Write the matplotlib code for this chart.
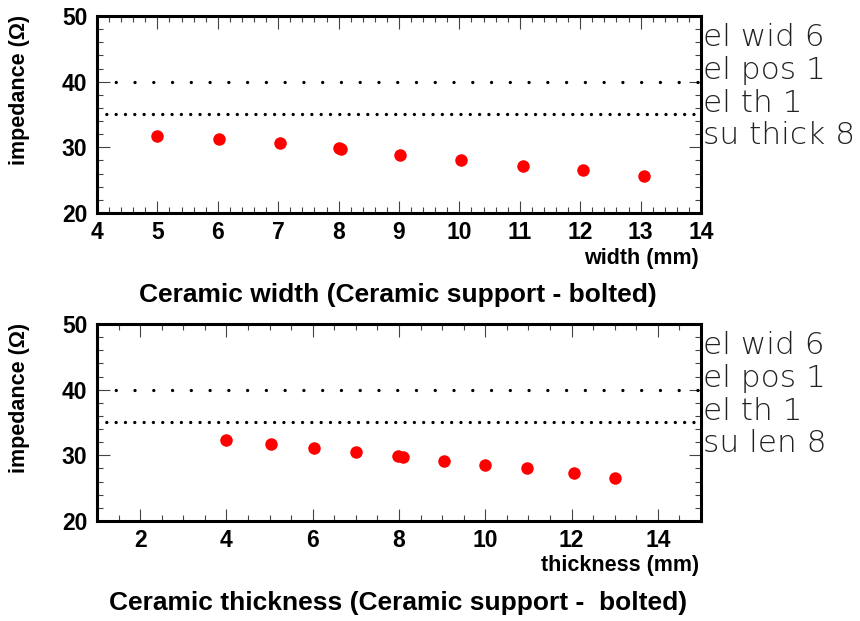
import numpy as np
import matplotlib
matplotlib.use("Agg")
import matplotlib.pyplot as plt
from matplotlib.ticker import MultipleLocator

plt.rcParams['font.family'] = ['Liberation Sans', 'DejaVu Sans']
plt.rcParams['lines.scale_dashes'] = False

# data
width_mm = [5.0, 6.02, 7.03, 8.0, 8.04, 9.01, 10.02, 11.06, 12.05, 13.05]
width_imp = [31.8, 31.3, 30.7, 29.95, 29.8, 28.9, 28.0, 27.1, 26.5, 25.7]

thick_mm = [4.0, 5.04, 6.03, 7.0, 7.98, 8.1, 9.05, 9.99, 10.97, 12.05, 13.0]
thick_imp = [32.4, 31.8, 31.1, 30.5, 29.9, 29.8, 29.1, 28.5, 28.1, 27.3, 26.5]

ref_levels = [40, 35]
info_top = ["el wid 6", "el pos 1", "el th 1", "su thick 8"]
info_bot = ["el wid 6", "el pos 1", "el th 1", "su len 8"]

W, H = 860, 621
fig = plt.figure(figsize=(W / 100, H / 100), dpi=100)


def fx(px):
    return px / W


def fy(py):
    return 1 - py / H


def panel(top_px, x, y, xlim, xmaj, xmin, xlabel, title, info):
    ax = fig.add_axes([fx(97), fy(top_px + 197), fx(604), 197 / H])
    ax.set_xlim(*xlim)
    ax.set_ylim(20, 50)
    ax.xaxis.set_major_locator(MultipleLocator(xmaj))
    ax.xaxis.set_minor_locator(MultipleLocator(xmin))
    ax.yaxis.set_major_locator(MultipleLocator(10))
    ax.yaxis.set_minor_locator(MultipleLocator(2))
    ax.tick_params(which='both', direction='in', top=True, right=True,
                   width=0.8, color='#444444')
    ax.tick_params(which='major', length=9, labelsize=16.5)
    ax.tick_params(which='minor', length=4.5)
    ax.tick_params(axis='x', which='major', pad=6)
    ax.tick_params(axis='y', which='major', pad=7)
    for lab in ax.get_xticklabels() + ax.get_yticklabels():
        lab.set_fontweight('bold')
    for s in ax.spines.values():
        s.set_linewidth(2.2)

    # dotted reference lines
    ax.axhline(ref_levels[0], color='black', lw=2.4,
               linestyle=(0, (0.01, 13.5)), dash_capstyle='round')
    ax.axhline(ref_levels[1], color='black', lw=2.4,
               linestyle=(0, (0.01, 6.7)), dash_capstyle='round')

    ax.plot(x, y, 'o', color='red', markersize=9, markeredgewidth=0)

    fig.text(fx(699), fy(top_px + 242), xlabel, ha='right', va='center',
             fontsize=15.5, fontweight='bold')
    fig.text(fx(20), fy(top_px - 1), 'impedance (\u03a9)', rotation=90,
             ha='center', va='top', fontsize=15.5, fontweight='bold')
    fig.text(fx(398), fy(top_px + 279), title, ha='center', va='center',
             fontsize=19, fontweight='bold')
    for i, t in enumerate(info):
        fig.text(fx(703), fy(top_px + 22 + 32.6 * i), t, ha='left',
                 va='center', fontsize=22.5, fontweight='light',
                 family=['DejaVu Sans'], color='#222222')
    return ax


ax1 = panel(16, width_mm, width_imp, (4, 14), 1, 0.2, 'width (mm)',
            'Ceramic width (Ceramic support - bolted)', info_top)
ax2 = panel(324, thick_mm, thick_imp, (1, 15), 2, 0.5, 'thickness (mm)',
            'Ceramic thickness (Ceramic support -  bolted)', info_bot)

fig.savefig('out.png', dpi=100)
